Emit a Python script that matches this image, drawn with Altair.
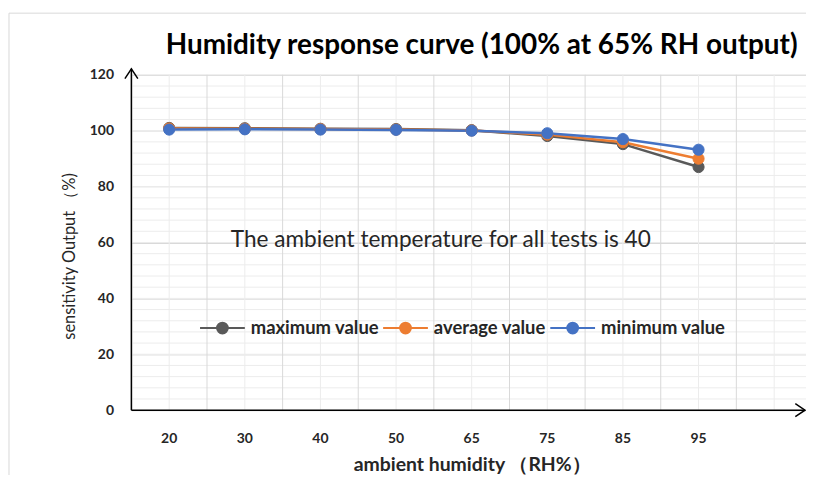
import altair as alt
import pandas as pd

# ---- data ----
humidity = ["20", "30", "40", "50", "65", "75", "85", "95"]
max_vals = [101.0, 100.9, 100.7, 100.6, 100.2, 98.1, 95.2, 87.0]
avg_vals = [100.8, 100.7, 100.6, 100.4, 100.1, 98.6, 95.9, 90.0]
min_vals = [100.4, 100.5, 100.4, 100.3, 100.0, 99.1, 97.0, 93.2]
series_names = ["maximum value", "average value", "minimum value"]
series_colors = ["#595959", "#ED7D31", "#4472C4"]
x_domain = humidity + [" "]          # Excel leaves one empty category at the end
y_major = [0, 20, 40, 60, 80, 100, 120]
y_minor = list(range(0, 121, 4))
chart_title = "Humidity response curve (100% at 65% RH output)"
note_text = "The ambient temperature for all tests is 40"

rows = []
for name, vals in zip(series_names, [max_vals, avg_vals, min_vals]):
    for h, v in zip(humidity, vals):
        rows.append({"humidity": h, "series": name, "value": v})
df = pd.DataFrame(rows)

W, H = 684, 337
FONT = "Lato"
xscale = alt.Scale(domain=x_domain, paddingInner=0, paddingOuter=0)
yscale = alt.Scale(domain=[0, 120], nice=False, zero=True)
one = pd.DataFrame({"a": [0]})

x_axis = alt.Axis(
    title="ambient humidity （RH%）", labelAngle=0, ticks=False, tickSize=0, domain=False, grid=False,
    labelFont=FONT, labelFontSize=14, labelFontWeight="bold", labelColor="#262626",
    labelPadding=22, labelBaseline="top",
    titleFont=FONT, titleFontSize=19.5, titleFontWeight="bold", titleColor="#262626",
    titleX=342, titleY=55, titleBaseline="middle", titleAnchor="middle", titleAlign="center",
)
y_axis = alt.Axis(
    title="sensitivity Output （%)", values=y_major, ticks=False, tickSize=0, domain=False,
    grid=True, gridColor="#d9d9d9", gridWidth=1,
    labelFont=FONT, labelFontSize=14, labelFontWeight="bold", labelColor="#262626", labelPadding=18,
    titleFont=FONT, titleFontSize=16.5, titleFontWeight="normal", titleColor="#262626",
    titleX=-62, titleY=182, titleAngle=270, titleAlign="center", titleBaseline="middle",
)

border = alt.Chart(one).mark_rect(fill="transparent", stroke="#d9d9d9", strokeWidth=1).encode(
    x=alt.value(-123), y=alt.value(-62), x2=alt.value(760), y2=alt.value(460)
)

minor_h = alt.Chart(pd.DataFrame({"v": y_minor})).mark_rule(color="#ececec", strokeWidth=1).encode(
    y=alt.Y("v:Q", scale=yscale, axis=y_axis), x=alt.value(0), x2=alt.value(W)
)

vgrid_major = alt.Chart(pd.DataFrame({"c": x_domain})).mark_rule(color="#d9d9d9", strokeWidth=1).encode(
    x=alt.X("c:N", scale=xscale, bandPosition=0, axis=x_axis), y=alt.value(0), y2=alt.value(H)
)
vgrid_minor = alt.Chart(pd.DataFrame({"c": x_domain})).mark_rule(color="#ececec", strokeWidth=1).encode(
    x=alt.X("c:N", scale=xscale, bandPosition=0.5, axis=x_axis), y=alt.value(0), y2=alt.value(H)
)

LEG_PATH = "M-1,0L1,0M-0.24,0A0.24,0.24 0 1,0 0.24,0A0.24,0.24 0 1,0 -0.24,0Z"
legend = alt.Legend(
    title=None, orient="none", legendX=68, legendY=231, direction="horizontal",
    symbolType=LEG_PATH, symbolSize=2025, symbolStrokeWidth=2, symbolOpacity=1,
    labelFont=FONT, labelFontSize=18.5, labelFontWeight="bold", labelColor="#262626",
    labelOffset=5, columnPadding=0,
)
cscale = alt.Scale(domain=series_names, range=series_colors)
color = alt.Color("series:N", scale=cscale, legend=legend)
stroke = alt.Stroke("series:N", scale=cscale, legend=legend)

lines = alt.Chart(df).mark_line(strokeWidth=2.5).encode(
    x=alt.X("humidity:N", scale=xscale, axis=x_axis),
    y=alt.Y("value:Q", scale=yscale, axis=y_axis),
    color=color,
)
points = alt.Chart(df).mark_point(filled=True, size=125, opacity=1, strokeWidth=1).encode(
    x=alt.X("humidity:N", scale=xscale, axis=x_axis),
    y=alt.Y("value:Q", scale=yscale, axis=y_axis),
    color=color, stroke=stroke,
)

yaxis_line = alt.Chart(one).mark_rule(color="#000000", strokeWidth=1.5).encode(
    x=alt.value(0), y=alt.value(-6), y2=alt.value(H)
)
xaxis_line = alt.Chart(one).mark_rule(color="#000000", strokeWidth=1.5).encode(
    x=alt.value(0), x2=alt.value(W - 7), y=alt.value(H)
)
arrow_up = alt.Chart(one).mark_point(
    shape="M-1,1.5L0,0L1,1.5", filled=False, stroke="#000000", strokeWidth=1.5, size=169, opacity=1
).encode(x=alt.value(0), y=alt.value(-6))
arrow_right = alt.Chart(one).mark_point(
    shape="M-1.5,-1L0,0L-1.5,1", filled=False, stroke="#000000", strokeWidth=1.5, size=169, opacity=1
).encode(x=alt.value(W - 7), y=alt.value(H))

note = alt.Chart(one).mark_text(
    text=note_text, font=FONT, fontSize=22.7,
    color="#262626", align="center", baseline="middle"
).encode(x=alt.value(311), y=alt.value(166))

title_mark = alt.Chart(one).mark_text(
    text=chart_title, font=FONT, fontSize=28, fontWeight="bold",
    color="#000000", align="center", baseline="middle"
).encode(x=alt.value(352), y=alt.value(-29))

chart = alt.layer(
    border, minor_h, vgrid_minor, vgrid_major, lines, points,
    yaxis_line, xaxis_line, arrow_up, arrow_right, note, title_mark,
).properties(
    width=W, height=H,
    padding={"left": 124, "top": 66, "right": -6, "bottom": 64},
    autosize=alt.AutoSizeParams(type="none"),
).configure_view(stroke=None).configure(background="white")

chart.save("out.html", embed_options={"renderer": "svg", "actions": False})
